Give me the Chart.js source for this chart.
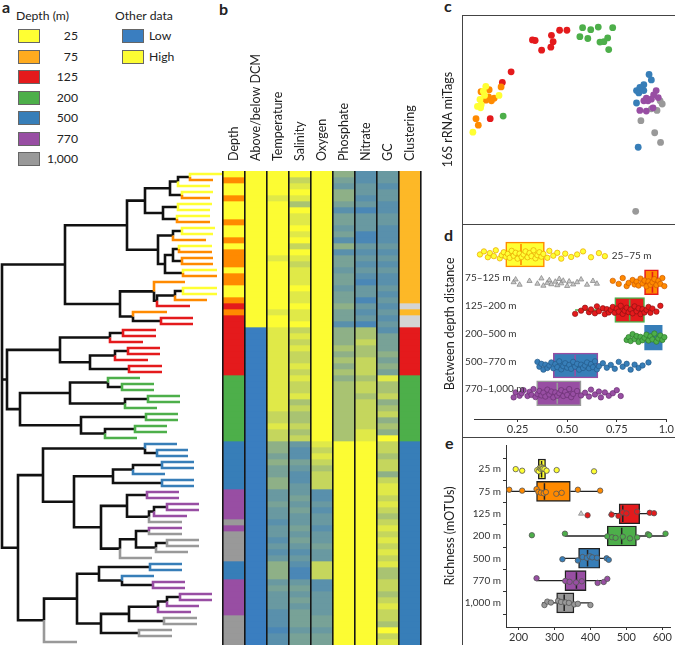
<!DOCTYPE html>
<html>
<head>
<meta charset="utf-8">
<title>Depth structure of samples</title>
<script src="https://cdn.jsdelivr.net/npm/chart.js@4.4.1/dist/chart.umd.min.js"></script>
<style>
  body { margin: 0; background: #fff; font-family: Lato, 'Open Sans', sans-serif; color: #222; }
  #page { position: relative; width: 675px; height: 645px; overflow: hidden; }
  .box { position: absolute; }
  .lbl { position: absolute; font-weight: bold; font-size: 16px; line-height: 18px; }
  .sw { position: absolute; width: 20px; height: 12px; border: 1px solid #666; }
  .txt { position: absolute; font-size: 12.2px; line-height: 15px; white-space: nowrap; }
  .frame { position: absolute; left: 462px; width: 240px; border-top: 1px solid #444; border-left: 1px solid #444; }
</style>
</head>
<body>
<div id="page">
  <div class="lbl" style="left:2px;top:-2px">a</div>
  <div class="lbl" style="left:219px;top:0px">b</div>
  <div class="lbl" style="left:444px;top:-3px">c</div>
  <div class="lbl" style="left:444px;top:226px">d</div>
  <div class="lbl" style="left:445px;top:434px">e</div>
  <div id="legend"></div>

  <div class="frame" style="top:15px;height:640px"></div>
  <div class="frame" style="top:224px;height:0"></div>
  <div class="frame" style="top:437px;height:0"></div>

  <div class="box" style="left:0;top:171px;width:223px;height:474px"><canvas id="tree"></canvas></div>
  <div class="box" style="left:221px;top:0;width:202px;height:645px"><canvas id="heat"></canvas></div>
  <div class="box" style="left:438px;top:15px;width:237px;height:209px"><canvas id="tags"></canvas></div>
  <div class="box" style="left:440px;top:224px;width:235px;height:213px"><canvas id="dist"></canvas></div>
  <div class="box" style="left:440px;top:437px;width:235px;height:208px"><canvas id="rich"></canvas></div>
</div>
<script>
'use strict';

const digits = s => [...s].map(Number);

// ---- depth classes ----
const depthLevels = ['25', '75', '125', '200', '500', '770', '1,000'];
const depthCodes  = ['Y', 'O', 'R', 'G', 'B', 'P', 'K'];

// depth class of every leaf / heatmap row, top to bottom (79 samples)
const leafDepth = [...('YOYYOYYYOYYOYOOOYOOYYORO' + 'RRRRRRRRRR' + 'GGGGGGGGGGG' + 'BBBBBBBB' +
                       'PPPPP' + 'K' + 'P' + 'KKKKK' + 'BBB' + 'PPPPPP' + 'KKKKK')];

// where each leaf branch ends (distance axis)
const leafEnd = [222, 213, 210, 213, 210, 212, 210, 210, 210, 215,
                 213, 206, 212, 212, 213, 213, 217, 217, 185, 217,
                 217, 207, 190, 167, 193, 193, 156, 156, 143, 160,
                 160, 148, 162, 162, 140, 154, 154, 180, 180, 157,
                 178, 178, 167, 167, 137, 177, 188, 188, 194, 194,
                 165, 194, 194, 179, 179, 199, 199, 187, 182, 182,
                 182, 199, 199, 188, 152, 182, 182, 154, 185, 185,
                 212, 212, 199, 191, 197, 197, 172, 172, 77];

// tree: [nodeDistance, child, child, ...], a number is a leaf index
const tree = [2,
  [65,
    [127,
      [145, [170, [178, [190, 0, 1], 2], [182, 3, 4]], [163, [178, 5, 6], [177, 7, 8]]],
      [158, [173, [182, 9, 10], 11], [165, [173, [179, 12, 13], [182, 14, 15]], [183, 16, 17]]]],
    [120,
      [154, 18, [157, [175, [183, 19, 20], 21], 22]],
      [133, 23, [161, 24, 25]]]],
  [7,
    [60, [110, [123, 26, 27], 28], [90, [115, [128, 29, 30], 31], [129, 32, 33]]],
    [20, [70, [108, 34, [122, 35, 36]], [125, [148, 37, 38], 39]],
         [81, [146, 40, 41], [105, [135, 42, 43], 44]]]],
  [18,
    [43,
      [145, 45, [157, 46, 47]],
      [74,
        [113, [133, [162, 48, 49], 50], [162, 51, 52]],
        [101,
          [127, [147, 53, 54], [149, [154, [167, 55, 56], 57], 58]],
          [120, [136, [149, 59, 60], [156, [167, 61, 62], 63]], 64]]]],
    [44,
      [77,
        [99, [150, 65, 66], [122, 67, [153, 68, 69]]],
        [101, [129, [158, [167, [180, 70, 71], 72], 73], [164, 74, 75]], [139, 76, 77]]],
      78]]];

// ---- heatmap columns (0 = low / blue, 9 = high / yellow) ----
const columns = ['Depth', 'Above/below DCM', 'Temperature', 'Salinity', 'Oxygen',
                 'Phosphate', 'Nitrate', 'GC', 'Clustering'];
const aboveDCM    = [...('H'.repeat(26) + 'L'.repeat(53))];
const temperature = digits('99998999999999899999999899' + '88888888888888' + '77877' + '55454455' +
                           '33433' + '2' + '3' + '32323' + '555' + '343332' + '22122');
const salinity    = digits('9789869889' + '8979878889' + '889889' + '78787787877867' + '66767' +
                           '32243223' + '34343' + '3' + '4' + '34323' + '211' + '343434' + '44344');
const oxygen      = digits('9'.repeat(45) + '87876777' + '22323' + '3' + '2' + '33433' + '777' +
                           '223333' + '44344');
const phosphate   = digits('5435542443' + '4252443443' + '445442' + '55565656566666' + '66666' +
                           '9'.repeat(34));
const nitrate     = digits('2233231333' + '1132323213' + '313231' + '66766777677677' + '77788' +
                           '9'.repeat(34));
const gcContent   = digits('3323322332' + '2232323223' + '2323232' + '4445454' + '8' + '66756' +
                           '75659' + '77677578' + '87876' + '78' + '78787' + '866' + '776787' + '76978');
const clustering  = [...('o'.repeat(22) + 'g' + 'o' + 'gg' + 'R'.repeat(8) + 'G'.repeat(11) + 'B'.repeat(34))];

// ---- panel c: 16S rRNA miTags ordination ----
const tags25   = [[11.4, 66.5], [10.2, 64.1], [10.8, 62.0], [8.6, 60.0], [9.2, 57.4], [7.4, 56.5],
                  [8.9, 55.8], [17.7, 62.0], [5.2, 43.7]];
const tags75   = [[9.1, 63.8], [13.0, 64.8], [12.7, 61.2], [15.4, 60.6], [14.1, 59.3], [18.7, 66.2],
                  [6.7, 50.4], [7.8, 47.2], [11.4, 59.6]];
const tags125  = [[23.5, 73.7], [19.3, 68.4], [13.5, 50.4], [33.7, 89.6], [35.0, 89.3], [38.1, 84.5],
                  [42.8, 91.9], [43.6, 88.7], [42.5, 86.0], [46.7, 94.4], [50.2, 94.4]];
const tags200  = [[19.7, 51.7], [57.7, 95.7], [61.6, 94.7], [65.2, 96.0], [72.1, 95.7], [56.4, 91.2],
                  [60.2, 90.3], [66.0, 88.5], [67.9, 88.7], [69.7, 90.6], [70.2, 84.8]];
const tags500  = [[89.5, 72.4], [90.6, 69.7], [87.0, 67.3], [85.9, 65.4], [83.5, 64.4], [84.6, 63.2],
                  [87.0, 64.4], [83.5, 58.2], [84.3, 36.2], [85.1, 66.0]];
const tags770  = [[92.9, 64.4], [91.7, 62.2], [93.9, 60.9], [90.6, 60.1], [88.2, 60.6], [87.0, 59.3],
                  [85.1, 54.5], [88.2, 54.2], [91.4, 55.8], [89.0, 59.3]];
const tags1000 = [[94.8, 59.3], [95.8, 57.7], [93.3, 54.5], [90.6, 55.3], [85.6, 49.4], [92.2, 43.4],
                  [95.0, 38.6], [83.1, 4.3]];

// ---- panel d: between depth distance ----
const distRows  = ['25–75 m', '75–125 m', '125–200 m', '200–500 m', '500–770 m', '770–1,000 m'];
const distBoxes = [[0.19, 0.267, 0.385], [0.89, 0.93, 0.96], [0.74, 0.815, 0.89],
                   [0.89, 0.93, 0.98], [0.43, 0.54, 0.655], [0.346, 0.45, 0.57]];
const distWhisk = [null, null, [0.54, 0.74], null, null, null];
const distTicks = [0.25, 0.5, 0.75, 1.0];
const distTickLabels = ['0.25', '0.50', '0.75', '1.0'];
const dist25_75 = [0.06, 0.08, 0.10, 0.11, 0.13, 0.14, 0.16, 0.17, 0.18, 0.19, 0.20, 0.21, 0.22, 0.23,
                   0.24, 0.25, 0.26, 0.27, 0.28, 0.29, 0.30, 0.31, 0.32, 0.33, 0.34, 0.35, 0.36, 0.37,
                   0.38, 0.40, 0.41, 0.43, 0.45, 0.47, 0.49, 0.52, 0.55, 0.58, 0.62, 0.66, 0.69];
const dist75_125 = [0.73, 0.76, 0.78, 0.80, 0.81, 0.83, 0.84, 0.85, 0.86, 0.87, 0.88, 0.89, 0.90,
                    0.91, 0.92, 0.93, 0.94, 0.95, 0.96, 0.97, 0.98, 0.99];
const dist75_125tri = [0.23, 0.24, 0.26, 0.31, 0.35, 0.37, 0.38, 0.40, 0.41, 0.42, 0.44, 0.45, 0.46,
                       0.47, 0.48, 0.50, 0.51, 0.53, 0.55, 0.57, 0.60, 0.63, 0.65];
const dist125_200 = [0.54, 0.57, 0.59, 0.61, 0.62, 0.64, 0.65, 0.66, 0.68, 0.69, 0.70, 0.71, 0.72,
                     0.73, 0.74, 0.75, 0.76, 0.77, 0.78, 0.79, 0.80, 0.81, 0.82, 0.83, 0.84, 0.85,
                     0.86, 0.87, 0.88, 0.89, 0.90, 0.91, 0.92, 0.93, 0.95, 0.97];
const dist200_500 = [0.80, 0.81, 0.82, 0.83, 0.84, 0.85, 0.86, 0.87, 0.88, 0.89, 0.90, 0.91, 0.92,
                     0.93, 0.94, 0.95, 0.96, 0.97, 0.98, 0.99];
const dist500_770 = [0.35, 0.36, 0.37, 0.38, 0.39, 0.40, 0.41, 0.42, 0.43, 0.44, 0.45, 0.46, 0.47,
                     0.48, 0.49, 0.50, 0.51, 0.52, 0.53, 0.54, 0.55, 0.56, 0.57, 0.58, 0.59, 0.60,
                     0.61, 0.62, 0.63, 0.64, 0.65, 0.66, 0.68, 0.70, 0.72, 0.74, 0.76, 0.78, 0.80,
                     0.82, 0.84, 0.86, 0.88, 0.91];
const dist770_1000 = [0.23, 0.24, 0.26, 0.27, 0.28, 0.30, 0.31, 0.32, 0.33, 0.34, 0.35, 0.36, 0.37,
                      0.38, 0.39, 0.40, 0.41, 0.42, 0.43, 0.44, 0.45, 0.46, 0.47, 0.48, 0.49, 0.50,
                      0.51, 0.52, 0.53, 0.55, 0.57, 0.59, 0.61, 0.62, 0.64, 0.66, 0.67, 0.69, 0.71,
                      0.73, 0.75, 0.77];

// ---- panel e: richness ----
const richCats  = ['25 m', '75 m', '125 m', '200 m', '500 m', '770 m', '1,000 m'];
// [whisker low, q1, median, q3, whisker high]
const richStats = [[252, 255, 264, 275, 280], [174, 250, 272, 344, 427], [455, 480, 490, 537, 577],
                   [329, 447, 487, 528, 609], [322, 367, 392, 426, 451], [250, 329, 361, 388, 447],
                   [266, 306, 327, 354, 400]];
const richPts   = [[192, 210, 252, 256, 259, 262, 264, 266, 268, 272, 278, 306, 410],
                   [174, 210, 250, 255, 262, 270, 276, 305, 320, 365, 427],
                   [392, 459, 478, 490, 500, 530, 565, 577],
                   [237, 329, 447, 460, 470, 490, 510, 530, 560, 564, 609],
                   [322, 365, 378, 390, 398, 405, 418, 445, 451],
                   [250, 330, 342, 360, 376, 420, 437, 447],
                   [272, 280, 290, 310, 318, 330, 340, 355, 365, 400]];
const richTri   = [374, 457];   // grey triangles on the 125 m row
const richTicks = [200, 300, 400, 500, 600];

// ---- styles ----
const DEPTH_COLOR = { Y: '#ffff33', O: '#ff8a00', R: '#e41a1c', G: '#4daf4a', B: '#377eb8', P: '#984ea3', K: '#999999' };
const LEGEND_COLOR = { Y: '#ffff33', O: '#ffab1f', R: '#e41a1c', G: '#4daf4a', B: '#377eb8', P: '#984ea3', K: '#999999' };
const CLUSTER_COLOR = { o: '#fdb827', g: '#d4d4d4', R: '#e41a1c', G: '#4daf4a', B: '#377eb8' };
const LOW = [58, 126, 192], MID = [128, 166, 146], HIGH = [252, 252, 51];
const GAP = { x: NaN, y: NaN };
const jitter = [0, -0.22, 0.2, -0.1, 0.12, -0.3, 0.28, 0.05, -0.16, 0.16, -0.04, 0.24, -0.26, 0.09,
                -0.12, 0.3, -0.06, 0.18];

function ramp(d) {
  const t = d / 9;
  const [a, b, u] = t < 0.5 ? [LOW, MID, t * 2] : [MID, HIGH, (t - 0.5) * 2];
  return 'rgb(' + a.map((v, i) => Math.round(v + (b[i] - v) * u)).join(',') + ')';
}

Chart.defaults.font.family = 'Lato';
Chart.defaults.color = '#222';
Chart.defaults.animation = false;
Chart.defaults.events = [];
Chart.defaults.plugins.legend.display = false;
Chart.defaults.plugins.tooltip.enabled = false;

const base = { responsive: true, maintainAspectRatio: false };

// ---- legend (panel a) ----
(function buildLegend() {
  const el = document.getElementById('legend');
  let html = '<div class="txt" style="left:16px;top:8px">Depth (m)</div>' +
             '<div class="txt" style="left:115px;top:8px">Other data</div>';
  depthLevels.forEach((lv, i) => {
    const top = 29 + i * 20.5;
    html += `<div class="sw" style="left:18px;top:${top}px;background:${LEGEND_COLOR[depthCodes[i]]}"></div>`;
    html += `<div class="txt" style="left:40px;width:38px;text-align:right;top:${top - 1}px">${lv}</div>`;
  });
  [['Low', ramp(0)], ['High', ramp(9)]].forEach(([t, c], i) => {
    const top = 29 + i * 20.5;
    html += `<div class="sw" style="left:122px;top:${top}px;background:${c}"></div>`;
    html += `<div class="txt" style="left:149px;top:${top - 1}px">${t}</div>`;
  });
  el.innerHTML = html;
})();

// ---- panel a: dendrogram ----
const segs = {};
function place(node) {
  if (typeof node === 'number') return { x: leafEnd[node], y: node + 0.5, leaf: node };
  const kids = node.slice(1).map(place);
  const x = node[0];
  const y = (kids[0].y + kids[kids.length - 1].y) / 2;
  kids.forEach(k => {
    const col = k.leaf !== undefined ? DEPTH_COLOR[leafDepth[k.leaf]] : '#111';
    (segs[col] = segs[col] || []).push({ x, y }, { x, y: k.y }, { x: k.x, y: k.y }, GAP);
  });
  return { x, y };
}
place(tree);

new Chart(document.getElementById('tree'), {
  type: 'scatter',
  data: {
    datasets: Object.entries(segs).map(([col, pts]) => ({
      data: pts, showLine: true, borderColor: col, borderWidth: 2.6, pointRadius: 0,
      clip: false, borderJoinStyle: 'miter', order: col === '#111' ? 2 : 1,
    })),
  },
  options: {
    ...base,
    layout: { padding: 0 },
    scales: {
      x: { display: false, min: 0, max: 223 },
      y: { display: false, min: 0, max: 79, reverse: true },
    },
  },
});

// ---- panel b: heatmap ----
const heatRows = leafDepth.map((d, r) => ({
  data: columns.map(() => [r, r + 1]),
  backgroundColor: [
    DEPTH_COLOR[d],
    aboveDCM[r] === 'H' ? ramp(9) : ramp(0),
    ramp(temperature[r]), ramp(salinity[r]), ramp(oxygen[r]),
    ramp(phosphate[r]), ramp(nitrate[r]), ramp(gcContent[r]),
    CLUSTER_COLOR[clustering[r]],
  ],
  borderWidth: 0, barPercentage: 1, categoryPercentage: 1,
}));

new Chart(document.getElementById('heat'), {
  type: 'bar',
  data: { labels: columns, datasets: heatRows },
  options: {
    ...base,
    layout: { padding: { left: 2, right: 2, top: 0, bottom: 0 } },
    scales: {
      x: {
        position: 'top', stacked: true,
        grid: { offset: true, color: '#161616', lineWidth: 1.6, drawTicks: false, z: 1 },
        border: { display: false },
        ticks: { minRotation: 90, maxRotation: 90, autoSkip: false, padding: 10, labelOffset: 15,
                 font: { size: 12.5 }, color: '#222' },
        afterFit: s => { s.height = 171; s.paddingLeft = 0; s.paddingRight = 0; },
      },
      y: { display: false, min: 0, max: 79, reverse: true, stacked: false },
    },
  },
});

// ---- panel c: miTags ----
const tagSets = [tags25, tags75, tags125, tags200, tags500, tags770, tags1000];
new Chart(document.getElementById('tags'), {
  type: 'scatter',
  data: {
    datasets: tagSets.map((pts, i) => ({
      data: pts.map(([x, y]) => ({ x, y })),
      backgroundColor: DEPTH_COLOR[depthCodes[i]], borderWidth: 0, pointRadius: 3.4,
    })),
  },
  options: {
    ...base,
    layout: { padding: 0 },
    scales: {
      x: { display: false, min: 0, max: 100 },
      y: {
        min: 0, max: 100,
        ticks: { display: false }, grid: { display: false }, border: { display: false },
        title: { display: true, text: '16S rRNA miTags', font: { size: 12.5 }, color: '#222', padding: 2 },
        afterFit: s => { s.width = 24; },
      },
    },
  },
});

// ---- panel d: between depth distance ----
const distFill = ['#ffff33', '#ff8a00', '#e41a1c', '#377eb8', '#377eb8', '#984ea3'];
const distEdge = ['#ff8a00', '#e41a1c', '#4daf4a', '#377eb8', '#984ea3', '#999999'];
const distPtFill = ['#ffff33', '#ff8a00', '#e41a1c', '#4daf4a', '#377eb8', '#984ea3'];
const distPtEdge = ['#e8a400', '#cc5a00', '#8e1212', '#2f7a2c', '#245a8a', '#6a3072'];
const distPts = [dist25_75, dist75_125, dist125_200, dist200_500, dist500_770, dist770_1000];

const distSets = [];
distSets.push({
  type: 'bar', indexAxis: 'y', order: 4,
  data: distBoxes.map((b, i) => ({ x: [b[0], b[2]], y: i })),
  backgroundColor: distFill, borderColor: distEdge, borderWidth: 1.6,
  borderSkipped: false, barThickness: 25,
});
distWhisk.forEach((w, i) => {
  if (!w) return;
  distSets.push({ type: 'scatter', showLine: true, order: 5, pointRadius: 0,
                  borderColor: distEdge[i], borderWidth: 1.6,
                  data: [{ x: w[0], y: i }, { x: w[1], y: i }] });
});
distBoxes.forEach((b, i) => {
  distSets.push({ type: 'scatter', showLine: true, order: 3, pointRadius: 0,
                  borderColor: distEdge[i], borderWidth: 1.6,
                  data: [{ x: b[1], y: i - 0.38 }, { x: b[1], y: i + 0.38 }] });
});
distSets.push({
  type: 'scatter', order: 2, pointStyle: 'triangle', pointRadius: 3,
  backgroundColor: '#c8c8c8', borderColor: '#808080', borderWidth: 0.7, clip: false,
  data: dist75_125tri.map((v, k) => ({ x: v, y: 1 + jitter[k % jitter.length] * 0.45 })),
});
distPts.forEach((arr, i) => {
  distSets.push({
    type: 'scatter', order: 1, pointRadius: 2.7, clip: false,
    backgroundColor: distPtFill[i], borderColor: distPtEdge[i], borderWidth: 0.7,
    data: arr.map((v, k) => ({ x: v, y: i + jitter[(k + i * 3) % jitter.length] * 0.5 })),
  });
});

const rowLabels = {
  id: 'rowLabels',
  afterDatasetsDraw(chart) {
    const { ctx, scales: { x, y } } = chart;
    ctx.save();
    ctx.font = '10px Lato';
    ctx.fillStyle = '#333';
    ctx.textBaseline = 'middle';
    distRows.forEach((t, i) => {
      if (i === 0) ctx.fillText(t, x.getPixelForValue(0.725), y.getPixelForValue(i) + 1);
      else ctx.fillText(t, x.getPixelForValue(-0.015), y.getPixelForValue(i) - 4);
    });
    ctx.restore();
  },
};

new Chart(document.getElementById('dist'), {
  type: 'scatter',
  data: { datasets: distSets },
  plugins: [rowLabels],
  options: {
    ...base,
    layout: { padding: { right: 8, top: 0, bottom: 0, left: 0 } },
    scales: {
      x: {
        min: 0.03, max: 1.0,
        afterBuildTicks: s => { s.ticks = distTicks.map(v => ({ value: v })); },
        ticks: { callback: (v, i) => distTickLabels[i], font: { size: 11 }, color: '#333', padding: 1 },
        grid: { drawOnChartArea: false, drawTicks: true, tickLength: 3, color: '#333' },
        border: { display: true, color: '#333', width: 1 },
        afterFit: s => { s.height = 18; },
      },
      y: {
        min: -0.5, max: 5.5, reverse: true,
        ticks: { display: false }, grid: { display: false }, border: { display: false },
        title: { display: true, text: 'Between depth distance', font: { size: 12.5 }, color: '#222', padding: 2 },
        afterFit: s => { s.width = 34; },
      },
    },
  },
});

// ---- panel e: richness ----
const richFill = ['#ffff33', '#ff8a00', '#e41a1c', '#4daf4a', '#377eb8', '#984ea3', '#999999'];
const richSets = [];
richSets.push({
  type: 'bar', indexAxis: 'y', order: 4,
  data: richStats.map((s, i) => ({ x: [s[1], s[3]], y: i })),
  backgroundColor: richFill, borderColor: '#222', borderWidth: 1.4,
  borderSkipped: false, barThickness: 20,
});
richSets.push({
  type: 'scatter', showLine: true, order: 5, pointRadius: 0, borderColor: '#222', borderWidth: 1.3,
  data: richStats.flatMap((s, i) => [{ x: s[0], y: i }, { x: s[1], y: i }, GAP,
                                     { x: s[3], y: i }, { x: s[4], y: i }, GAP]),
});
richSets.push({
  type: 'scatter', showLine: true, order: 3, pointRadius: 0, borderColor: '#222', borderWidth: 1.5,
  data: richStats.flatMap((s, i) => [{ x: s[2], y: i - 0.37 }, { x: s[2], y: i + 0.37 }, GAP]),
});
richSets.push({
  type: 'scatter', order: 2, pointStyle: 'triangle', pointRadius: 3,
  backgroundColor: '#c8c8c8', borderColor: '#808080', borderWidth: 0.7,
  data: richTri.map(v => ({ x: v, y: 2 })),
});
richPts.forEach((arr, i) => {
  richSets.push({
    type: 'scatter', order: 1, pointRadius: 2.7, clip: false,
    backgroundColor: richFill[i], borderColor: '#555', borderWidth: 0.8,
    data: arr.map((v, k) => ({ x: v, y: i + jitter[(k * 2 + i) % jitter.length] * 0.35 })),
  });
});

new Chart(document.getElementById('rich'), {
  type: 'scatter',
  data: { datasets: richSets },
  options: {
    ...base,
    layout: { padding: { top: 2, right: 0, bottom: 0, left: 0 } },
    scales: {
      x: {
        min: 165, max: 622,
        afterBuildTicks: s => { s.ticks = richTicks.map(v => ({ value: v })); },
        ticks: { font: { size: 11 }, color: '#333', padding: 1 },
        grid: { drawOnChartArea: false, drawTicks: true, tickLength: 3, color: '#333' },
        border: { display: true, color: '#333', width: 1 },
        afterFit: s => { s.height = 18; },
      },
      y: {
        min: -0.5, max: 6.5, reverse: true,
        afterBuildTicks: s => { s.ticks = richCats.map((c, i) => ({ value: i })); },
        ticks: { callback: v => richCats[v], font: { size: 10 }, color: '#333', padding: 2 },
        grid: { drawOnChartArea: false, drawTicks: true, tickLength: 3, color: '#333' },
        border: { display: true, color: '#333', width: 1 },
        title: { display: true, text: 'Richness (mOTUs)', font: { size: 12.5 }, color: '#222', padding: 2 },
        afterFit: s => { s.width = 66; },
      },
    },
  },
});
</script>
</body>
</html>
